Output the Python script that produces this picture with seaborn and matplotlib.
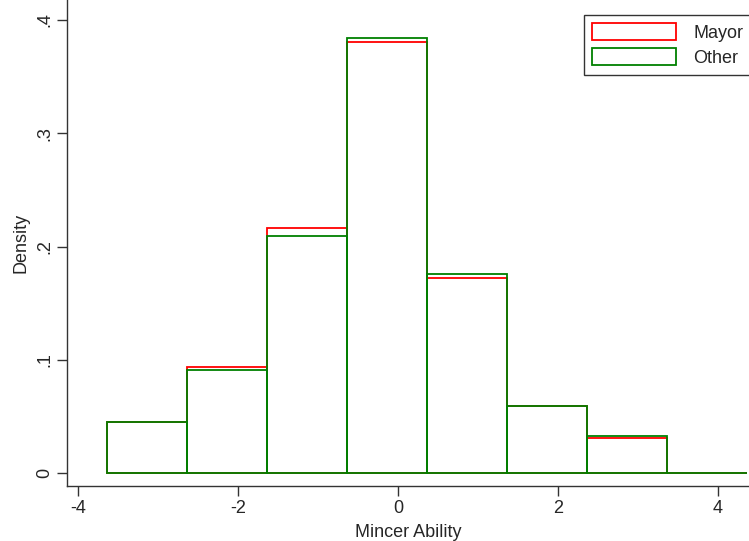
import numpy as np
import pandas as pd
import seaborn as sns
import matplotlib.pyplot as plt
from matplotlib.patches import Patch

# histogram bins (width 1) and densities
bin_edges = [-3.64, -2.64, -1.64, -0.64, 0.36, 1.36, 2.36, 3.36, 4.36]
mayor_density = [0.045, 0.0935, 0.216, 0.381, 0.172, 0.059, 0.031, 0.0004]
other_density = [0.045, 0.091, 0.209, 0.384, 0.176, 0.059, 0.0327, 0.0004]
groups = ["Mayor", "Other"]
colors = {"Mayor": "#ff0000", "Other": "#008000"}

centers = [(a + b) / 2 for a, b in zip(bin_edges[:-1], bin_edges[1:])]
df = pd.DataFrame({
    "x": centers * 2,
    "w": mayor_density + other_density,
    "group": ["Mayor"] * len(centers) + ["Other"] * len(centers),
})

sns.set_style("ticks")
plt.rcParams["font.family"] = ["Liberation Sans", "DejaVu Sans"]

fig = plt.figure(figsize=(7.49, 5.41), dpi=100)
ax = fig.add_axes([67 / 749, 1 - 486 / 541, 1 - 67 / 749, 486 / 541])

for g in groups:
    sns.histplot(data=df[df["group"] == g], x="x", weights="w", bins=bin_edges,
                 stat="count", fill=False, element="bars", color=colors[g],
                 linewidth=1.3, ax=ax)

ax.set_xlim(-4.14, 4.39)
ax.set_ylim(-0.0115, 0.4177)
ax.set_xticks([-4, -2, 0, 2, 4])
ax.set_xticklabels(["-4", "-2", "0", "2", "4"])
ax.set_yticks([0, 0.1, 0.2, 0.3, 0.4])
ax.set_yticklabels(["0", ".1", ".2", ".3", ".4"], rotation=90, va="center")
ax.tick_params(labelsize=13, length=7, width=1, color="#333333", direction="out", pad=3)
ax.set_xlabel("Mincer Ability", fontsize=13, labelpad=5)
ax.set_ylabel("Density", fontsize=13, labelpad=5)
for side in ["top", "right"]:
    ax.spines[side].set_visible(False)
for side in ["left", "bottom"]:
    ax.spines[side].set_color("#333333")
    ax.spines[side].set_linewidth(1)

handles = [Patch(facecolor="white", edgecolor=colors[g], linewidth=1.3, label=g) for g in groups]
leg = ax.legend(handles=handles, loc="upper right", bbox_to_anchor=(1.004, 0.969),
                fontsize=13, frameon=True, fancybox=False, handlelength=4.6,
                handleheight=1.05, borderpad=0.45, labelspacing=0.35, handletextpad=1.0,
                borderaxespad=0)
leg.get_frame().set_edgecolor("black")
leg.get_frame().set_linewidth(1)

fig.savefig("out.png", dpi=100)
